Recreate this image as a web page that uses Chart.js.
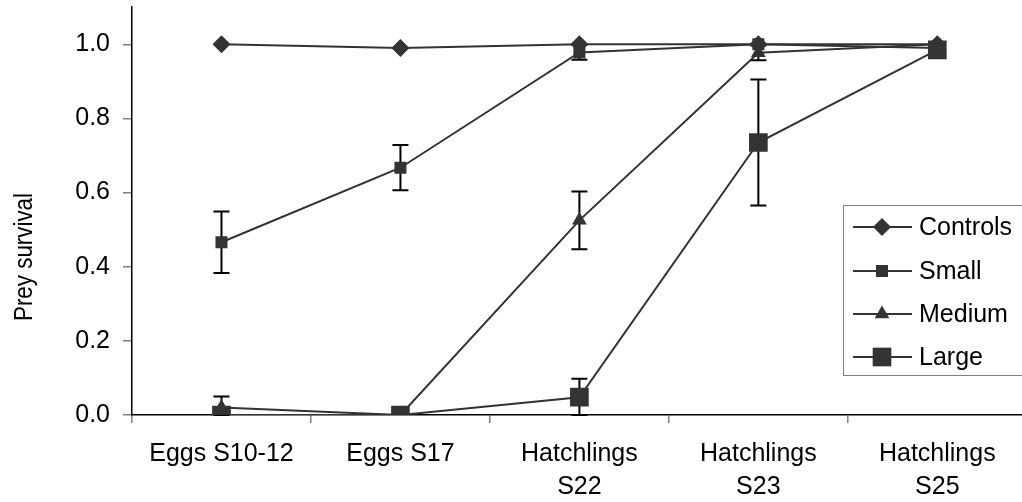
<!DOCTYPE html>
<html><head><meta charset="utf-8">
<script src="https://cdn.jsdelivr.net/npm/chart.js@4"></script>
<style>html,body{margin:0;padding:0;background:#fff;overflow:hidden;width:1022px;height:502px}
#wrap{position:relative;width:1040px;height:502px;overflow:hidden}
#c{position:absolute;left:0;top:-6px}</style></head>
<body><div id="wrap"><canvas id="c" width="1040" height="508"></canvas></div>
<script>
const categories = [["Eggs S10-12"], ["Eggs S17"], ["Hatchlings", "S22"], ["Hatchlings", "S23"], ["Hatchlings", "S25"]];
const seriesNames = ["Controls", "Small", "Medium", "Large"];
const controls = [1.0, 0.99, 1.0, 1.0, 1.0];
const small = [0.466, 0.667, 0.978, 1.0, 0.99];
const medium = [0.02, 0.0, 0.525, 0.977, 1.0];
const large = [0.0, 0.0, 0.048, 0.735, 0.985];
const controlsErr = [0, 0, 0, 0, 0];
const smallErr = [0.083, 0.061, 0.02, 0, 0];
const mediumErr = [0.03, 0, 0.078, 0.02, 0];
const largeErr = [0, 0, 0.05, 0.17, 0];
const yTicks = [0, 0.2, 0.4, 0.6, 0.8, 1.0];
const yTitle = "Prey survival";

const FONT = "'Liberation Sans', Arial, sans-serif";
const DARK = '#333333';
const OFF = 6; // canvas is shifted up by this many px
const styles = [
  {pointStyle: 'rectRot', radius: 9},
  {pointStyle: 'rect', radius: 8.5},
  {pointStyle: 'triangle', radius: 8.5},
  {pointStyle: 'rect', radius: 13.2}
];
const values = [controls, small, medium, large];
const errors = [controlsErr, smallErr, mediumErr, largeErr];

function drawMarker(ctx, style, r, x, y) {
  ctx.beginPath();
  if (style === 'rectRot') {
    ctx.moveTo(x, y - r); ctx.lineTo(x + r, y); ctx.lineTo(x, y + r); ctx.lineTo(x - r, y);
  } else if (style === 'rect') {
    const s = r * Math.SQRT1_2;
    ctx.rect(x - s, y - s, 2 * s, 2 * s);
  } else if (style === 'triangle') {
    let a = 0;
    ctx.moveTo(x + Math.sin(a) * r, y - Math.cos(a) * r);
    a += 2 * Math.PI / 3;
    ctx.lineTo(x + Math.sin(a) * r, y - Math.cos(a) * r);
    a += 2 * Math.PI / 3;
    ctx.lineTo(x + Math.sin(a) * r, y - Math.cos(a) * r);
  }
  ctx.closePath();
  ctx.fillStyle = DARK;
  ctx.fill();
}

const errorBars = {
  id: 'errorBars',
  beforeDatasetsDraw(chart) {
    const ctx = chart.ctx, xs = chart.scales.x, ys = chart.scales.y, ca = chart.chartArea;
    ctx.save();
    ctx.strokeStyle = '#000';
    ctx.lineWidth = 2;
    errors.forEach((errs, si) => {
      errs.forEach((e, i) => {
        if (!e) return;
        const v = values[si][i];
        const x = xs.getPixelForValue(i);
        const yt = ys.getPixelForValue(v + e);
        const yb = Math.min(ys.getPixelForValue(v - e), ca.bottom);
        ctx.beginPath();
        ctx.moveTo(x, yt); ctx.lineTo(x, yb);
        ctx.moveTo(x - 8, yt); ctx.lineTo(x + 8, yt);
        ctx.moveTo(x - 8, yb); ctx.lineTo(x + 8, yb);
        ctx.stroke();
      });
    });
    ctx.restore();
  }
};

const customLegend = {
  id: 'customLegend',
  afterDraw(chart) {
    const ctx = chart.ctx;
    ctx.save();
    ctx.strokeStyle = '#808080';
    ctx.lineWidth = 1;
    ctx.strokeRect(843.5, 205.5 + OFF, 200, 170);
    const ys = [227, 271, 314, 357];
    seriesNames.forEach((n, i) => {
      const y = ys[i] + OFF;
      ctx.strokeStyle = DARK;
      ctx.lineWidth = 2;
      ctx.beginPath(); ctx.moveTo(853, y); ctx.lineTo(912, y); ctx.stroke();
      drawMarker(ctx, styles[i].pointStyle, styles[i].radius, 882, y);
      ctx.fillStyle = '#000';
      ctx.font = "25px " + FONT;
      ctx.textAlign = 'left';
      ctx.textBaseline = 'middle';
      ctx.fillText(n, 919, y + 1);
    });
    ctx.save();
    ctx.translate(25, 257 + OFF);
    ctx.rotate(-Math.PI / 2);
    ctx.scale(0.86, 1);
    ctx.font = "26px " + FONT;
    ctx.textAlign = 'center';
    ctx.textBaseline = 'middle';
    ctx.fillStyle = '#000';
    ctx.fillText(yTitle, 0, 0);
    ctx.restore();
    ctx.restore();
  }
};

new Chart(document.getElementById('c'), {
  type: 'line',
  data: {
    labels: categories,
    datasets: seriesNames.map((n, i) => ({
      label: n,
      data: values[i],
      borderColor: DARK,
      borderWidth: 2,
      backgroundColor: DARK,
      pointBackgroundColor: DARK,
      pointBorderColor: DARK,
      pointBorderWidth: 0,
      pointStyle: styles[i].pointStyle,
      pointRadius: styles[i].radius,
      tension: 0,
      fill: false,
      order: 4 - i
    }))
  },
  options: {
    responsive: false,
    animation: false,
    devicePixelRatio: 1,
    layout: {padding: {top: 1, right: 8, left: 0, bottom: 0}},
    plugins: {legend: {display: false}, tooltip: {enabled: false}},
    scales: {
      x: {
        type: 'category',
        offset: true,
        grid: {offset: true, drawOnChartArea: false, tickLength: 8, color: '#808080', tickColor: '#808080', lineWidth: 1.5},
        border: {color: '#000', width: 1.5},
        ticks: {font: {size: 25, family: FONT, lineHeight: 1.32}, color: '#000', padding: 15, maxRotation: 0, autoSkip: false},
        afterFit(s) { s.height = 87; s.paddingLeft = 0; s.paddingRight = 0; }
      },
      y: {
        min: 0, max: 1.1,
        afterBuildTicks(s) { s.ticks = yTicks.map(v => ({value: v})); },
        grid: {drawOnChartArea: false, tickLength: 9, color: '#808080', tickColor: '#808080', lineWidth: 1.5},
        border: {color: '#000', width: 1.5},
        ticks: {font: {size: 25, family: FONT}, color: '#000', padding: 13, callback: v => Number(v).toFixed(1)},
        afterFit(s) { s.width = 132; s.paddingTop = 0; s.paddingBottom = 0; }
      }
    }
  },
  plugins: [errorBars, customLegend]
});
</script></body></html>
